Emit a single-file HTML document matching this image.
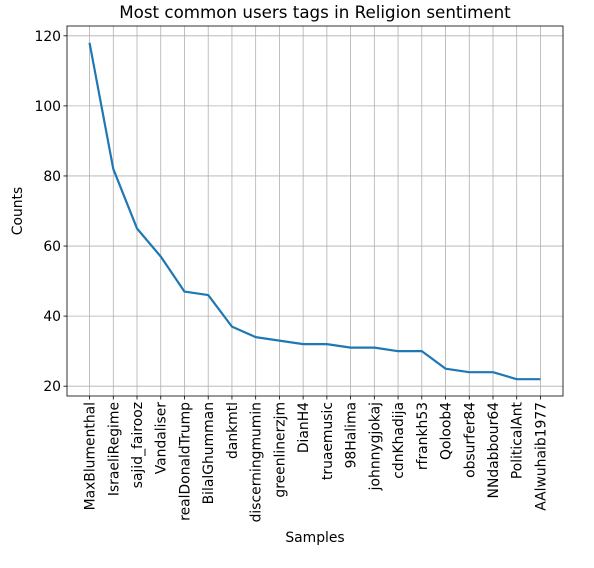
<!DOCTYPE html>
<html><head><meta charset="utf-8"><style>
body{margin:0;background:#fff;font-family:"Liberation Sans","DejaVu Sans",sans-serif;}
svg text{font-family:"DejaVu Sans","Liberation Sans",sans-serif;}
</style></head><body>
<svg id="chart" width="594" height="563" viewBox="0 0 594 563">
<text x="315" y="18" text-anchor="middle" font-size="16.7">Most common users tags in Religion sentiment</text>
<g id="grid"></g><g id="axes"></g>
<text x="315" y="542" text-anchor="middle" font-size="13.9">Samples</text>
<text transform="translate(22,211) rotate(-90)" text-anchor="middle" font-size="13.9">Counts</text>
</svg>
<script>
const categories=["MaxBlumenthal","IsraeliRegime","sajid_fairooz","Vandaliser","realDonaldTrump","BilalGhumman","dankmtl","discerningmumin","greenlinerzjm","DianH4","truaemusic","98Halima","johnnygjokaj","cdnKhadija","rfrankh53","Qoloob4","obsurfer84","NNdabbour64","PoliticalAnt","AAlwuhaib1977"];
const counts=[118,82,65,57,47,46,37,34,33,32,32,31,31,30,30,25,24,24,22,22];
const yTicks=[20,40,60,80,100,120];
const L=67,R=563,T=26,B=396,NS="http://www.w3.org/2000/svg";
const n=categories.length;
const xmin=-0.05*(n-1),xmax=(n-1)*1.05;
const dmin=Math.min(...counts),dmax=Math.max(...counts),pad=(dmax-dmin)*0.05;
const ymin=dmin-pad,ymax=dmax+pad;
const xs=i=>L+(i-xmin)/(xmax-xmin)*(R-L);
const ys=v=>B-(v-ymin)/(ymax-ymin)*(B-T);
const g=document.getElementById('grid'),a=document.getElementById('axes');
function el(p,t,at){const e=document.createElementNS(NS,t);for(const k in at)e.setAttribute(k,at[k]);p.appendChild(e);return e;}
categories.forEach((c,i)=>{const x=xs(i);
 const gl=el(g,'line',{x1:x,x2:x,y1:T,y2:B,stroke:'#b0b0b0','stroke-width':0.8});
 
 
 const tk=el(a,'line',{x1:x,x2:x,y1:B,y2:B+3.5,stroke:'#000','stroke-width':0.8});
 
 
 const t=el(a,'text',{transform:`translate(${x+5},${B+6}) rotate(-90)`,'text-anchor':'end','font-size':13.9});
 t.textContent=c;
 
 
});
yTicks.forEach(v=>{const y=ys(v);
 const gl=el(g,'line',{x1:L,x2:R,y1:y,y2:y,stroke:'#b0b0b0','stroke-width':0.8});
 
 
 const tk=el(a,'line',{x1:L-3.5,x2:L,y1:y,y2:y,stroke:'#000','stroke-width':0.8});
 
 
 const t=el(a,'text',{x:L-6,y:y+5,'text-anchor':'end','font-size':13.9});
 t.textContent=v;
 
 
});
const line=el(a,'polyline',{points:counts.map((v,i)=>xs(i)+','+ys(v)).join(' '),fill:'none',stroke:'#1f77b4','stroke-width':2.2,'stroke-linejoin':'round'});


const fr=el(a,'rect',{x:L,y:T,width:R-L,height:B-T,fill:'none',stroke:'#000','stroke-width':0.8});


</script>
</body></html>
